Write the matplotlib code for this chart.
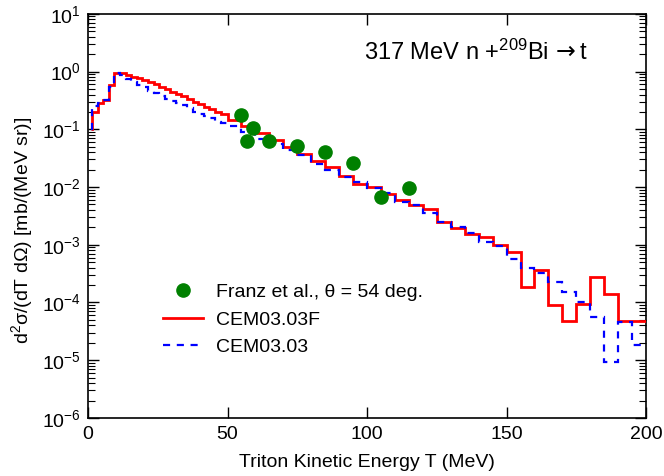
import numpy as np
import matplotlib
matplotlib.use('Agg')
import matplotlib.pyplot as plt
from matplotlib.ticker import LogLocator, FixedLocator, NullLocator

plt.rcParams['font.family'] = ['Liberation Sans', 'DejaVu Sans']
plt.rcParams['mathtext.fontset'] = 'custom'
plt.rcParams['mathtext.rm'] = 'Liberation Sans'
plt.rcParams['mathtext.it'] = 'Liberation Sans:italic'
plt.rcParams['mathtext.bf'] = 'Liberation Sans:bold'
plt.rcParams['mathtext.sf'] = 'DejaVu Sans'

FontSize = 14
TitleSize = 17

# bin edges (MeV): 2 MeV bins at low energy, 5 MeV bins above 50 MeV
edges = [1.0, 1.5, 3.5, 5.5, 7.5, 9.5, 11.5, 13.5, 15.5, 17.5, 19.5, 21.5,
         23.5, 25.5, 27.5, 29.5, 31.5, 33.5, 35.5, 37.5, 39.5, 41.5, 43.5,
         45.5, 47.5, 50, 55, 60, 65, 70, 75, 80, 85, 90, 95, 100, 105, 110,
         115, 120, 125, 130, 135, 140, 145, 150, 155, 160, 165, 170, 175,
         180, 185, 190, 195, 200]

cem03f = [0.1, 0.20, 0.28, 0.32, 0.59, 0.96, 0.94, 0.88, 0.82, 0.77, 0.70,
          0.65, 0.60, 0.55, 0.495, 0.45, 0.41, 0.37, 0.333, 0.30, 0.272,
          0.247, 0.223, 0.203, 0.185,
          0.143, 0.116, 0.0855, 0.0655, 0.049, 0.0375, 0.028, 0.0226,
          0.0156, 0.0113, 0.0102, 0.0077, 0.0059, 0.0049, 0.0041, 0.0025,
          0.00193, 0.00154, 0.00138, 0.00098, 0.00075, 1.83e-4, 3.66e-4,
          9.1e-5, 4.7e-5, 9.4e-5, 2.8e-4, 1.4e-4, 4.7e-5, 4.7e-5]

cem03 = [0.1, 0.25, 0.28, 0.32, 0.55, 0.96, 0.88, 0.74, 0.67, 0.59, 0.55,
         0.46, 0.42, 0.37, 0.34, 0.314, 0.29, 0.265, 0.235, 0.203, 0.185,
         0.171, 0.155, 0.136, 0.13,
         0.112, 0.089, 0.067, 0.056, 0.044, 0.036, 0.025, 0.0198, 0.0151,
         0.012, 0.0096, 0.0078, 0.0056, 0.0048, 0.0035, 0.0025, 0.00206,
         0.00159, 0.0011, 0.00095, 0.00056, 3.9e-4, 3.2e-4, 2.3e-4,
         1.54e-4, 1.03e-4, 5.5e-5, 9.4e-6, 4.65e-5, 1.83e-5]

# Franz et al. experimental points
exp_T = [55, 57, 59, 65, 75, 85, 95, 105, 115]
exp_xs = [0.178, 0.0637, 0.104, 0.0637, 0.0521, 0.0411, 0.0265, 0.00683, 0.00955]

fig = plt.figure(figsize=(6.64, 4.76), dpi=100)
ax = fig.add_axes([0.1325, 0.122, 0.8405, 0.849])

l1, = ax.plot(exp_T, exp_xs, 'o', color='#008000', markersize=9.5, zorder=4,
              label='Franz et al., θ = 54 deg.')
ax.stairs(cem03f, edges, baseline=None, color='#ff0000', linewidth=2.0,
          zorder=3)
ax.stairs(cem03, edges, baseline=None, color='#0000ff', linewidth=1.6,
          linestyle=(0, (3.2, 3)), zorder=3)
l2, = ax.plot([], [], color='#ff0000', linewidth=2.0, label='CEM03.03F')
l3, = ax.plot([], [], color='#0000ff', linewidth=1.6, linestyle=(0, (3.2, 3)),
              label='CEM03.03')

ax.set_yscale('log')
ax.set_xlim(0, 200)
ax.set_ylim(1e-6, 10)
ax.xaxis.set_major_locator(FixedLocator([0, 50, 100, 150, 200]))
ax.xaxis.set_minor_locator(NullLocator())
ax.yaxis.set_major_locator(LogLocator(base=10, numticks=20))
ax.yaxis.set_minor_locator(LogLocator(base=10, subs=np.arange(2, 10), numticks=20))

ax.tick_params(which='both', direction='in', top=True, right=True,
               labelsize=FontSize)
ax.tick_params(which='major', length=8, width=1.0)
ax.tick_params(which='minor', length=5, width=0.8)
ax.tick_params(axis='x', pad=6)
ax.tick_params(axis='y', pad=5)
for s in ax.spines.values():
    s.set_linewidth(1.2)

ax.set_xlabel('Triton Kinetic Energy T (MeV)', fontsize=FontSize, labelpad=8)
ax.set_ylabel('d$^2$σ/(dT dΩ) [mb/(MeV sr)]', fontsize=FontSize)
ax.yaxis.set_label_coords(-0.095, 0.465)

ax.text(0.695, 0.905, r'317 MeV n +$^{209}$Bi$\,\mathsf{\rightarrow}$t',
        transform=ax.transAxes, ha='center', va='center', fontsize=TitleSize)

ax.legend(handles=[l1, l2, l3], loc='upper left', bbox_to_anchor=(0.134, 0.3325),
          frameon=False, fontsize=FontSize, handlelength=2.05, handletextpad=0.67,
          labelspacing=0.5, borderpad=0, borderaxespad=0, numpoints=1)

fig.savefig('out.png', dpi=100)
